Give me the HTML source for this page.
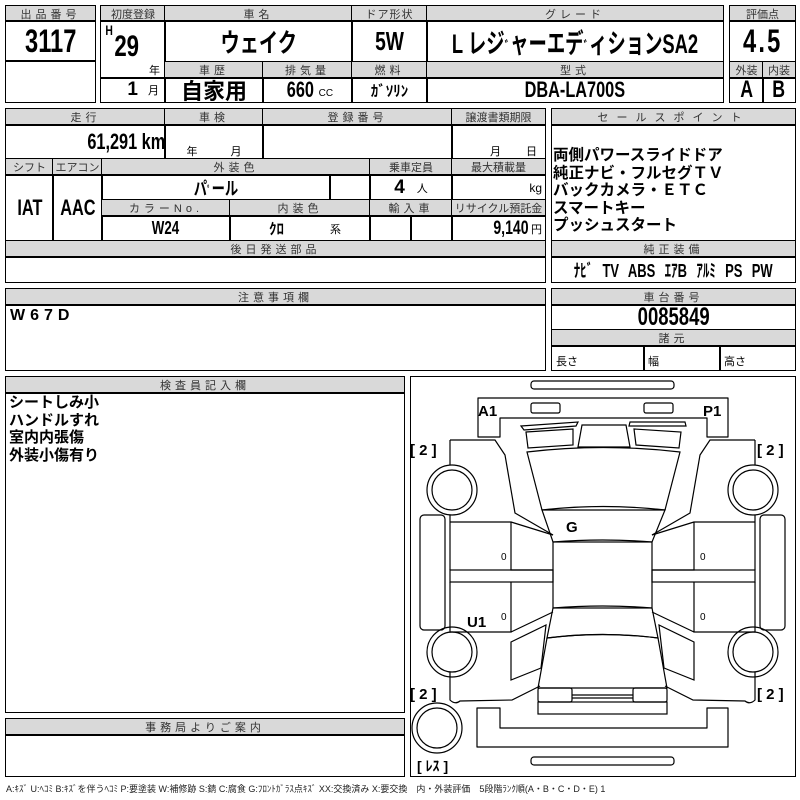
<!DOCTYPE html>
<html><head><meta charset="utf-8"><style>
body{margin:0;width:800px;height:800px;background:#fff;position:relative;overflow:hidden;font-family:"Liberation Sans","Noto Sans CJK JP",sans-serif;}
.c{position:absolute;border:1.5px solid #000;box-sizing:border-box;display:flex;align-items:center;justify-content:center;color:#000;white-space:nowrap;overflow:hidden}
.h{background:#d9d9d9;font-size:11px;letter-spacing:4px;color:#333}
.n{font-weight:bold}
.s{display:inline-block;transform:scaleX(.74);}
.t{position:absolute;white-space:nowrap}
</style></head><body>
<!-- box 1 -->
<div class="c h" style="left:5px;top:5px;width:91px;height:17px">出品番号</div>
<div class="c n" style="left:5px;top:20px;width:91px;height:42px;font-size:32px"><span class="s">3117</span></div>
<div class="c" style="left:5px;top:60px;width:91px;height:43px"></div>
<!-- box 2 -->
<div class="c h" style="left:100px;top:5px;width:66px;height:17px;letter-spacing:0">初度登録</div>
<div class="c h" style="left:164px;top:5px;width:189px;height:17px">車名</div>
<div class="c h" style="left:351px;top:5px;width:77px;height:17px;letter-spacing:1px">ドア形状</div>
<div class="c h" style="left:426px;top:5px;width:298px;height:17px">グレード</div>
<div class="c" style="left:100px;top:20px;width:66px;height:59px"></div>
<div class="t n" style="left:104px;top:22px;font-size:14px"><span class="s">H</span></div>
<div class="t n" style="left:110px;top:30px;font-size:30px"><span class="s">29</span></div>
<div class="t" style="left:149px;top:62px;font-size:11px">年</div>
<div class="c n" style="left:164px;top:20px;width:189px;height:43px;font-size:26px"><span class="s">ウェイク</span></div>
<div class="c n" style="left:351px;top:20px;width:77px;height:43px;font-size:26px"><span class="s">5W</span></div>
<div class="c n" style="left:426px;top:20px;width:298px;height:43px;font-size:27px"><span class="s" style="transform:scaleX(.68)">L レジ<span style="font-size:16px">ﾞ</span>ャーエデ<span style="font-size:16px">ﾞ</span>ィションSA2</span></div>
<div class="c h" style="left:164px;top:61px;width:100px;height:18px">車歴</div>
<div class="c h" style="left:262px;top:61px;width:91px;height:18px">排気量</div>
<div class="c h" style="left:351px;top:61px;width:77px;height:18px">燃料</div>
<div class="c h" style="left:426px;top:61px;width:298px;height:18px">型式</div>
<div class="c" style="left:100px;top:77px;width:66px;height:26px;justify-content:flex-end;padding-right:6px"><span class="n" style="font-size:19px">1</span><span style="font-size:11px;margin-left:10px">月</span></div>
<div class="c" style="left:164px;top:77px;width:100px;height:26px;font-size:22px;font-weight:bold">自家用</div>
<div class="c" style="left:262px;top:77px;width:91px;height:26px"><span class="n s" style="font-size:22px">660</span><span style="font-size:10px;margin-top:6px">CC</span></div>
<div class="c" style="left:351px;top:77px;width:77px;height:26px;font-size:15px;font-weight:bold">ｶﾞｿﾘﾝ</div>
<div class="c n" style="left:426px;top:77px;width:298px;height:26px;font-size:22px"><span class="s">DBA-LA700S</span></div>
<!-- score -->
<div class="c h" style="left:729px;top:5px;width:67px;height:17px;letter-spacing:0">評価点</div>
<div class="c n" style="left:729px;top:20px;width:67px;height:43px;font-size:32px"><span class="s" style="letter-spacing:3px">4.5</span></div>
<div class="c h" style="left:729px;top:61px;width:35px;height:18px;letter-spacing:0">外装</div>
<div class="c h" style="left:762px;top:61px;width:34px;height:18px;letter-spacing:0">内装</div>
<div class="c n" style="left:729px;top:77px;width:35px;height:26px;font-size:24px"><span class="s">A</span></div>
<div class="c n" style="left:762px;top:77px;width:34px;height:26px;font-size:24px"><span class="s">B</span></div>
<!-- section 2 -->
<div class="c h" style="left:5px;top:108px;width:161px;height:18px">走行</div>
<div class="c h" style="left:164px;top:108px;width:100px;height:18px">車検</div>
<div class="c h" style="left:262px;top:108px;width:191px;height:18px">登録番号</div>
<div class="c h" style="left:451px;top:108px;width:95px;height:18px;letter-spacing:0">譲渡書類期限</div>
<div class="c n" style="left:5px;top:124px;width:161px;height:36px;justify-content:flex-end;padding-right:0;font-size:22px"><span class="s" style="transform-origin:right">61,291 km</span></div>
<div class="c" style="left:164px;top:124px;width:100px;height:36px"><span style="font-size:11px;margin-top:18px">年　　　月</span></div>
<div class="c" style="left:262px;top:124px;width:191px;height:36px"></div>
<div class="c" style="left:451px;top:124px;width:95px;height:36px"><span style="font-size:11px;margin-top:18px;margin-left:30px">月　　 日</span></div>
<div class="c h" style="left:5px;top:158px;width:49px;height:18px;letter-spacing:0">シフト</div>
<div class="c h" style="left:52px;top:158px;width:51px;height:18px;letter-spacing:0">エアコン</div>
<div class="c h" style="left:101px;top:158px;width:270px;height:18px">外装色</div>
<div class="c h" style="left:369px;top:158px;width:84px;height:18px;letter-spacing:0">乗車定員</div>
<div class="c h" style="left:451px;top:158px;width:95px;height:18px;letter-spacing:0">最大積載量</div>
<div class="c n" style="left:5px;top:174px;width:49px;height:68px;font-size:22px"><span class="s">IAT</span></div>
<div class="c n" style="left:52px;top:174px;width:51px;height:68px;font-size:22px"><span class="s">AAC</span></div>
<div class="c n" style="left:101px;top:174px;width:230px;height:27px;font-size:18px"><span class="s">パ<span style="font-size:12px">ﾟ</span>ール</span></div>
<div class="c" style="left:329px;top:174px;width:42px;height:27px"></div>
<div class="c" style="left:369px;top:174px;width:84px;height:27px"><span class="n" style="font-size:19px">4</span><span style="font-size:11px;margin-left:12px">人</span></div>
<div class="c" style="left:451px;top:174px;width:95px;height:27px;justify-content:flex-end;padding-right:3px;font-size:12px">kg</div>
<div class="c h" style="left:101px;top:199px;width:130px;height:18px">カラーNo.</div>
<div class="c h" style="left:229px;top:199px;width:142px;height:18px">内装色</div>
<div class="c h" style="left:369px;top:199px;width:84px;height:18px">輸入車</div>
<div class="c h" style="left:451px;top:199px;width:95px;height:18px;letter-spacing:0">リサイクル預託金</div>
<div class="c n" style="left:101px;top:215px;width:130px;height:27px;font-size:18px"><span class="s">W24</span></div>
<div class="c" style="left:229px;top:215px;width:142px;height:27px"><span class="n" style="font-size:15px;margin-left:10px">ｸﾛ</span><span style="font-size:11px;margin-left:46px">系</span></div>
<div class="c" style="left:369px;top:215px;width:43px;height:27px"></div>
<div class="c" style="left:410px;top:215px;width:43px;height:27px"></div>
<div class="c" style="left:451px;top:215px;width:95px;height:27px;justify-content:flex-end;padding-right:3px"><span class="n s" style="font-size:19px;transform-origin:right">9,140</span><span style="font-size:11px;margin-left:2px">円</span></div>
<div class="c h" style="left:5px;top:240px;width:541px;height:18px">後日発送部品</div>
<div class="c" style="left:5px;top:256px;width:541px;height:27px"></div>
<!-- sales -->
<div class="c h" style="left:551px;top:108px;width:245px;height:18px;letter-spacing:8px">セールスポイント</div>
<div class="c" style="left:551px;top:124px;width:245px;height:118px;align-items:flex-start;justify-content:flex-start;padding:22px 0 0 1px;font-size:15.5px;line-height:17.5px;white-space:pre;font-weight:bold">両側パワースライドドア
純正ナビ・フルセグＴＶ
バックカメラ・ＥＴＣ
スマートキー
プッシュスタート</div>
<div class="c h" style="left:551px;top:240px;width:245px;height:18px">純正装備</div>
<div class="c n" style="left:551px;top:256px;width:245px;height:27px;font-size:18px"><span class="s" style="transform:scaleX(.72);word-spacing:8px">ﾅﾋﾞ TV ABS ｴｱB ｱﾙﾐ PS PW</span></div>
<!-- section 3 -->
<div class="c h" style="left:5px;top:288px;width:541px;height:18px">注意事項欄</div>
<div class="c" style="left:5px;top:304px;width:541px;height:67px;align-items:flex-start;justify-content:flex-start;padding:2px 4px;font-size:16px;font-weight:bold;letter-spacing:5px">W67D</div>
<div class="c h" style="left:551px;top:288px;width:245px;height:18px">車台番号</div>
<div class="c n" style="left:551px;top:304px;width:245px;height:27px;font-size:25px"><span class="s">0085849</span></div>
<div class="c h" style="left:551px;top:329px;width:245px;height:18px">諸元</div>
<div class="c" style="left:551px;top:345px;width:94px;height:26px;justify-content:flex-start;padding:6px 0 0 4px;font-size:11px">長さ</div>
<div class="c" style="left:643px;top:345px;width:78px;height:26px;justify-content:flex-start;padding:6px 0 0 4px;font-size:11px">幅</div>
<div class="c" style="left:719px;top:345px;width:77px;height:26px;justify-content:flex-start;padding:6px 0 0 4px;font-size:11px">高さ</div>
<!-- section 4 -->
<div class="c h" style="left:5px;top:376px;width:400px;height:18px">検査員記入欄</div>
<div class="c" style="left:5px;top:392px;width:400px;height:321px;align-items:flex-start;justify-content:flex-start;padding:1px 3px;font-size:15px;line-height:17.5px;font-weight:bold;white-space:pre">シートしみ小
ハンドルすれ
室内内張傷
外装小傷有り</div>
<div class="c h" style="left:5px;top:718px;width:400px;height:18px">事務局よりご案内</div>
<div class="c" style="left:5px;top:734px;width:400px;height:43px"></div>
<div class="c" style="left:410px;top:376px;width:386px;height:401px"></div>
<svg style="position:absolute;left:0;top:0" width="800" height="800" fill="none" stroke="#000" stroke-width="1.2">
<rect x="531" y="381" width="143" height="8" rx="3"/>
<path d="M478,398 H728 V437 H707 V418 H500 V437 H478 Z" stroke-linejoin="round"/>
<rect x="531" y="403" width="29" height="10" rx="2"/><rect x="644" y="403" width="29" height="10" rx="2"/>
<path d="M521,426 L578,422 L576,426 L524,430 Z M526,432 L573,429 L573,445 L528,448 Z M578,447 L582,425 L626,425 L630,447 Z M685,422 L686,426 L629,426 L630,422 Z M634,429 L681,432 L679,448 L636,445 Z"/>
<path d="M527,452 Q603,443 680,452 L665,510 Q603,503 542,510 Z"/>
<path d="M542,510 L665,510 L652,542 Q603,538 553,542 Z"/>
<rect x="553" y="542" width="99" height="66"/>
<path d="M553,608 Q603,604 652,608 L658,638 Q603,631 547,638 Z"/>
<path d="M547,638 Q603,631 658,638 L667,688 L538,688 Z"/>
<rect x="538" y="688" width="34" height="14" rx="2"/><rect x="633" y="688" width="34" height="14" rx="2"/>
<path d="M572,695 H633 M572,698 H633"/>
<rect x="538" y="702" width="129" height="12"/>
<path d="M477,708 H500 V728 H707 V708 H728 V747 H477 Z" stroke-linejoin="round"/>
<rect x="531" y="757" width="143" height="8" rx="3"/>
<path d="M450,440 L495,440 L505,455 L515,513 L553,535 M450,440 L450,465 M450,515 L450,522"/>
<path d="M450,522 H511 V570 H553 M450,522 V570 M511,522 L553,535"/>
<rect x="450" y="570" width="103" height="12"/>
<path d="M450,582 V632 H511 V582 M511,632 L553,612"/>
<path d="M511,642 L546,625 L541,668 L511,680 Z"/>
<path d="M450,672 V700 Q455,705 460,701 L512,700 L540,686"/>
<rect x="420" y="515" width="25" height="115" rx="4"/>
<path d="M755,440 L710,440 L700,455 L690,513 L652,535 M755,440 L755,465 M755,515 L755,522"/>
<path d="M755,522 H694 V570 H652 M755,522 V570 M694,522 L652,535"/>
<rect x="652" y="570" width="103" height="12"/>
<path d="M755,582 V632 H694 V582 M694,632 L652,612"/>
<path d="M694,642 L659,625 L664,668 L694,680 Z"/>
<path d="M755,672 V700 Q750,705 745,701 L693,700 L665,686"/>
<rect x="760" y="515" width="25" height="115" rx="4"/>
<circle cx="452" cy="490" r="25"/><circle cx="452" cy="490" r="20"/>
<circle cx="452" cy="652" r="25"/><circle cx="452" cy="652" r="20"/>
<circle cx="753" cy="490" r="25"/><circle cx="753" cy="490" r="20"/>
<circle cx="753" cy="652" r="25"/><circle cx="753" cy="652" r="20"/>
<circle cx="437" cy="728" r="25"/><circle cx="437" cy="728" r="20"/>
<g fill="#000" stroke="none" font-family="Liberation Sans, Noto Sans CJK JP, sans-serif" font-weight="bold">
<text x="478" y="416" font-size="15">A1</text><text x="703" y="416" font-size="15">P1</text>
<text x="566" y="532" font-size="15">G</text><text x="467" y="627" font-size="15">U1</text>
<text x="410" y="455" font-size="15">[ 2 ]</text><text x="757" y="455" font-size="15">[ 2 ]</text>
<text x="410" y="699" font-size="15">[ 2 ]</text><text x="757" y="699" font-size="15">[ 2 ]</text>
<text x="417" y="771" font-size="14">[ ﾚｽ ]</text>
<text x="501" y="560" font-size="10" font-weight="normal">0</text><text x="700" y="560" font-size="10" font-weight="normal">0</text>
<text x="501" y="620" font-size="10" font-weight="normal">0</text><text x="700" y="620" font-size="10" font-weight="normal">0</text>
</g>
</svg>
<div class="t" style="left:6px;top:782px;font-size:9px;color:#222">A:ｷｽﾞ U:ﾍｺﾐ B:ｷｽﾞを伴うﾍｺﾐ P:要塗装 W:補修跡 S:錆 C:腐食 G:ﾌﾛﾝﾄｶﾞﾗｽ点ｷｽﾞ XX:交換済み X:要交換　内・外装評価　5段階ﾗﾝｸ順(A・B・C・D・E) 1</div>
</body></html>
